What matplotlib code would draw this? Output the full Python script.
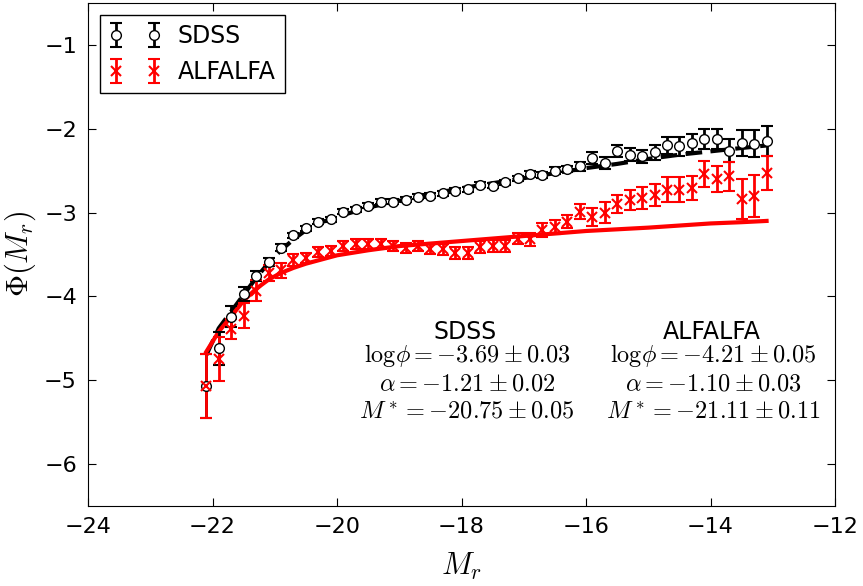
import matplotlib
matplotlib.use("Agg")
import matplotlib.pyplot as plt

plt.rcParams['mathtext.fontset'] = 'cm'
plt.rcParams['font.family'] = ['DejaVu Sans']

# magnitude bins (0.2 mag)
mag = [-22.1, -21.9, -21.7, -21.5, -21.3, -21.1, -20.9, -20.7, -20.5, -20.3,
       -20.1, -19.9, -19.7, -19.5, -19.3, -19.1, -18.9, -18.7, -18.5, -18.3,
       -18.1, -17.9, -17.7, -17.5, -17.3, -17.1, -16.9, -16.7, -16.5, -16.3,
       -16.1, -15.9, -15.7, -15.5, -15.3, -15.1, -14.9, -14.7, -14.5, -14.3,
       -14.1, -13.9, -13.7, -13.5, -13.3, -13.1]

# SDSS luminosity function
sdss_phi = [-5.07, -4.62, -4.24, -3.97, -3.76, -3.59, -3.42, -3.27, -3.19, -3.11,
            -3.08, -2.99, -2.96, -2.92, -2.87, -2.87, -2.85, -2.81, -2.80, -2.77,
            -2.74, -2.72, -2.67, -2.68, -2.64, -2.59, -2.54, -2.55, -2.50, -2.48,
            -2.45, -2.35, -2.41, -2.27, -2.31, -2.33, -2.28, -2.20, -2.21, -2.17,
            -2.12, -2.12, -2.26, -2.17, -2.18, -2.15]
sdss_err = [0.38, 0.20, 0.13, 0.08, 0.06, 0.05, 0.04, 0.03, 0.03, 0.03,
            0.03, 0.03, 0.03, 0.03, 0.03, 0.03, 0.03, 0.03, 0.03, 0.03,
            0.03, 0.03, 0.03, 0.03, 0.03, 0.03, 0.035, 0.035, 0.04, 0.04,
            0.05, 0.07, 0.07, 0.07, 0.08, 0.08, 0.09, 0.10, 0.11, 0.11,
            0.12, 0.12, 0.14, 0.15, 0.16, 0.18]

# ALFALFA luminosity function
alfa_phi = [-5.07, -4.75, -4.39, -4.23, -3.93, -3.72, -3.69, -3.57, -3.54, -3.47,
            -3.46, -3.40, -3.38, -3.37, -3.38, -3.40, -3.42, -3.40, -3.44, -3.44,
            -3.48, -3.48, -3.41, -3.40, -3.40, -3.31, -3.32, -3.21, -3.17, -3.11,
            -2.99, -3.05, -3.00, -2.90, -2.85, -2.83, -2.79, -2.73, -2.73, -2.71,
            -2.54, -2.60, -2.57, -2.84, -2.80, -2.53]
alfa_err = [0.38, 0.26, 0.12, 0.15, 0.12, 0.10, 0.09, 0.07, 0.06, 0.06,
            0.06, 0.06, 0.06, 0.06, 0.06, 0.06, 0.06, 0.06, 0.06, 0.07,
            0.07, 0.07, 0.07, 0.07, 0.07, 0.07, 0.08, 0.08, 0.08, 0.08,
            0.09, 0.11, 0.12, 0.11, 0.12, 0.13, 0.13, 0.15, 0.15, 0.14,
            0.15, 0.15, 0.17, 0.24, 0.25, 0.20]

# Schechter fits
fit_mag = [-22.1, -21.9, -21.7, -21.5, -21.3, -21.1, -20.9, -20.7, -20.5, -20.3,
           -20.0, -19.5, -19.0, -18.5, -18.0, -17.5, -17.0, -16.5, -16.0, -15.5,
           -15.0, -14.5, -14.0, -13.5, -13.1]
sdss_fit = [-4.70, -4.38, -4.18, -3.98, -3.78, -3.60, -3.45, -3.32, -3.21, -3.13,
            -3.05, -2.94, -2.86, -2.78, -2.71, -2.65, -2.59, -2.53, -2.47, -2.42,
            -2.36, -2.31, -2.27, -2.23, -2.20]
alfa_fit = [-4.66, -4.42, -4.24, -4.05, -3.91, -3.80, -3.72, -3.66, -3.61, -3.57,
            -3.51, -3.45, -3.40, -3.37, -3.34, -3.31, -3.28, -3.25, -3.22, -3.20,
            -3.18, -3.155, -3.13, -3.115, -3.10]

sdss_txt = [r'$\mathrm{log}\phi = -3.69 \pm 0.03$', r'$\alpha = -1.21 \pm 0.02$',
            r'$M^* = -20.75 \pm 0.05$']
alfa_txt = [r'$\mathrm{log}\phi = -4.21 \pm 0.05$', r'$\alpha = -1.10 \pm 0.03$',
            r'$M^* = -21.11 \pm 0.11$']

fig = plt.figure(figsize=(8.63, 5.86), dpi=100)
ax = fig.add_axes([0.102, 0.1365, 0.8656, 0.8585])

ax.plot(fit_mag, sdss_fit, 'k--', lw=3, dashes=(4, 2))
ax.plot(fit_mag, alfa_fit, 'r-', lw=3)

ax.errorbar(mag, sdss_phi, yerr=sdss_err, fmt='o', mfc='white', mec='k', ms=7,
            ecolor='k', elinewidth=2, capsize=4, capthick=1.5, label='SDSS')
ax.errorbar(mag, alfa_phi, yerr=alfa_err, fmt='x', color='r', ms=7, mew=1.5,
            ecolor='r', elinewidth=2, capsize=4, capthick=1.5, label='ALFALFA')

ax.set_xlim(-24, -12)
ax.set_ylim(-6.5, -0.5)
ax.set_xticks([-24, -22, -20, -18, -16, -14, -12])
ax.set_yticks([-6, -5, -4, -3, -2, -1])
ax.tick_params(direction='in', top=True, right=True, labelsize=16, length=6, pad=8)
ax.set_xlabel(r'$M_r$', fontsize=22, labelpad=10)
ax.set_ylabel(r'$\Phi(M_r)$', fontsize=22)

ax.text(-17.94, -4.42, 'SDSS', fontsize=17, ha='center', va='center')
ax.text(-13.98, -4.42, 'ALFALFA', fontsize=17, ha='center', va='center')
for i in range(3):
    ax.text(-17.91, -4.71 - 0.33 * i, sdss_txt[i], fontsize=17.5, ha='center', va='center')
    ax.text(-13.96, -4.71 - 0.33 * i, alfa_txt[i], fontsize=17.5, ha='center', va='center')

leg = ax.legend(loc='upper left', numpoints=2, fontsize=17, fancybox=False,
                framealpha=1, edgecolor='k', handletextpad=0.7, borderaxespad=0.5,
                handlelength=2.2, labelspacing=0.5)
leg.get_frame().set_linewidth(1)

fig.savefig('out.png', dpi=100)
